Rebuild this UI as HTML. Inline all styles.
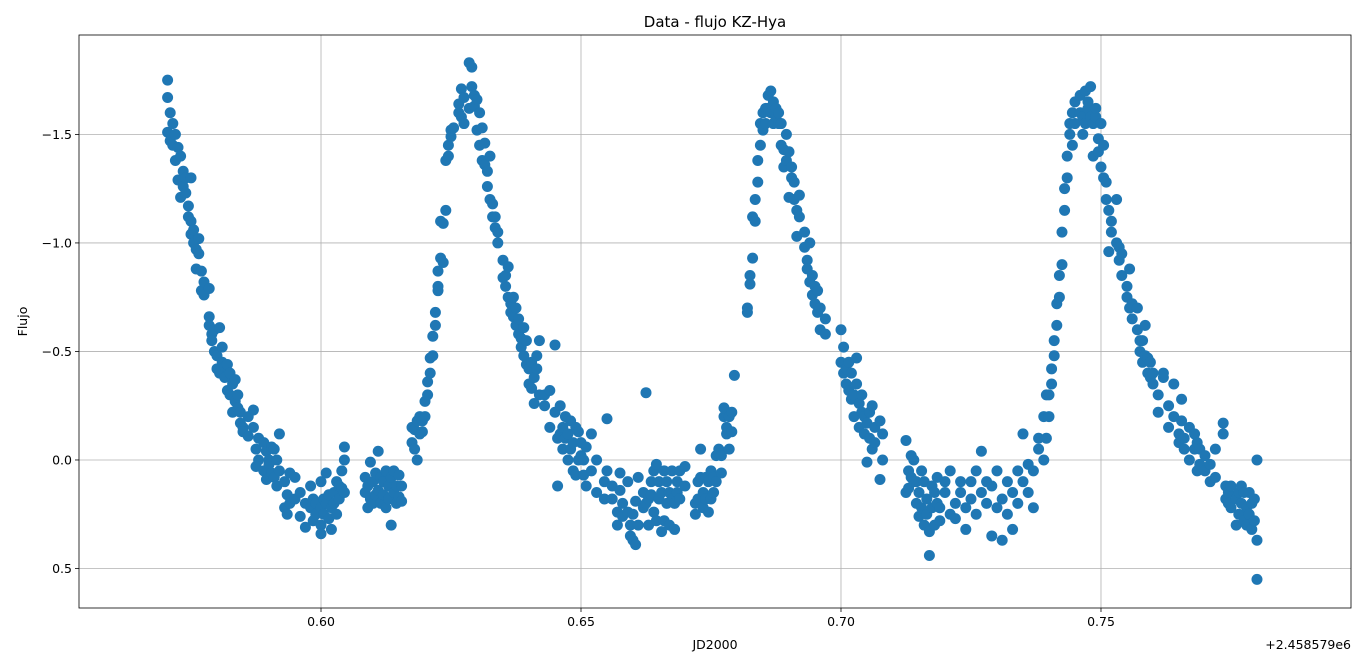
<!DOCTYPE html>
<html><head><meta charset="utf-8"><style>
body{margin:0;background:#fff;font-family:"Liberation Sans","DejaVu Sans",sans-serif}
svg text{font-family:"DejaVu Sans","Liberation Sans",sans-serif}
</style></head><body>
<svg id="c" width="1366" height="667"></svg>
<script>
const xTicks=[0.60,0.65,0.70,0.75];
const xTickLabels=["0.60","0.65","0.70","0.75"];
const yTicks=[-1.5,-1.0,-0.5,0.0,0.5];
const yTickLabels=["−1.5","−1.0","−0.5","0.0","0.5"];
const samples=[
[0.5705,-1.67,-1.51,-1.75],[0.5710,-1.60,-1.47],[0.5715,-1.55,-1.45],[0.5720,-1.50,-1.38],[0.5725,-1.44,-1.29],[0.5730,-1.40,-1.21],[0.5735,-1.33,-1.26],[0.5740,-1.30,-1.23],[0.5745,-1.17,-1.12],[0.5750,-1.10,-1.30,-1.04],[0.5755,-1.06,-1.00],[0.5760,-0.97,-0.88],[0.5765,-0.95,-1.02],[0.5770,-0.87,-0.78],[0.5775,-0.76,-0.82],[0.5785,-0.79,-0.66,-0.62],[0.5790,-0.58,-0.55],[0.5795,-0.50,-0.60],[0.5800,-0.42,-0.48],[0.5805,-0.40,-0.61],[0.5810,-0.45,-0.52],[0.5815,-0.38,-0.43],[0.5820,-0.32,-0.44],[0.5825,-0.40,-0.30],[0.5830,-0.35,-0.22],[0.5835,-0.27,-0.37],[0.5840,-0.24,-0.30],[0.5845,-0.17,-0.22],[0.5850,-0.15,-0.13],[0.5860,-0.11,-0.20],[0.5870,-0.23,-0.15],[0.5875,-0.05,0.03],[0.5880,0.00,-0.10],[0.5890,0.05,-0.08],[0.5895,-0.04,0.09],[0.5900,0.00,0.02],[0.5905,-0.06,0.06],[0.5910,0.08,-0.05],[0.5915,0.00,0.12],[0.5920,-0.12,0.05],[0.5930,0.10,0.22],[0.5935,0.16,0.25],[0.5940,0.20,0.06],[0.5950,0.08,0.18],[0.5960,0.26,0.15],[0.5970,0.20,0.31],[0.5980,0.22,0.12],[0.5985,0.28,0.18],[0.5990,0.25,0.20],[0.6000,0.30,0.22,0.34,0.10],[0.6005,0.25,0.18],[0.6010,0.06,0.20],[0.6015,0.27,0.16],[0.6020,0.32,0.22],[0.6025,0.15,0.20],[0.6030,0.10,0.25],[0.6035,0.18,0.12],[0.6040,0.05,0.13],[0.6045,0.00,-0.06,0.15],
[0.6085,0.08,0.15],[0.6090,0.12,0.22],[0.6095,0.01,0.18],[0.6100,0.10,0.20],[0.6105,0.06,0.16],[0.6110,-0.04,0.14],[0.6115,0.08,0.20],[0.6120,0.16,0.10],[0.6125,0.22,0.05],[0.6130,0.12,0.18],[0.6135,0.30,0.08],[0.6140,0.15,0.05],[0.6145,0.12,0.20],[0.6150,0.07,0.17],[0.6155,0.12,0.19],[0.6175,-0.08,-0.15],[0.6180,-0.05,-0.14],[0.6185,-0.18,0.00],[0.6190,-0.12,-0.20],[0.6195,-0.13,-0.18],[0.6200,-0.20,-0.27],[0.6205,-0.30,-0.36],[0.6210,-0.40,-0.47],[0.6215,-0.48,-0.57],[0.6220,-0.68,-0.62],[0.6225,-0.80,-0.78,-0.87],[0.6230,-0.93,-1.10],[0.6235,-1.09,-0.91],[0.6240,-1.15,-1.38],[0.6245,-1.40,-1.45],[0.6250,-1.49,-1.52],[0.6255,-1.53],[0.6265,-1.60,-1.64],[0.6270,-1.71,-1.58],[0.6275,-1.67,-1.55],[0.6285,-1.83,-1.62],[0.6290,-1.81,-1.72],[0.6295,-1.68,-1.63],[0.6300,-1.66,-1.52],[0.6305,-1.60,-1.45],[0.6310,-1.38,-1.53],[0.6315,-1.36,-1.46],[0.6320,-1.33,-1.26],[0.6325,-1.20,-1.40],[0.6330,-1.18,-1.12],[0.6335,-1.07,-1.12],[0.6340,-1.00,-1.05],[0.6350,-0.92,-0.84],[0.6355,-0.85,-0.80],[0.6360,-0.75,-0.89],[0.6365,-0.72,-0.68],[0.6370,-0.75,-0.66],[0.6375,-0.62,-0.70],[0.6380,-0.58,-0.65],[0.6385,-0.52,-0.56],[0.6390,-0.61,-0.48],[0.6395,-0.44,-0.55],[0.6400,-0.42,-0.35],[0.6405,-0.45,-0.33],[0.6410,-0.26,-0.38],[0.6415,-0.48,-0.42],[0.6420,-0.55,-0.30],[0.6430,-0.30,-0.25],[0.6440,-0.15,-0.32],[0.6450,-0.22,-0.53],[0.6455,-0.10,0.12],[0.6460,-0.12,-0.25],[0.6465,-0.15,-0.05],[0.6470,-0.10,-0.20],[0.6475,0.00,-0.12],[0.6480,-0.18,-0.05],[0.6485,0.05,-0.08],[0.6490,-0.15,0.07],[0.6495,0.00,-0.13],[0.6500,-0.08,-0.02],[0.6505,0.00,0.07],[0.6510,-0.06,0.12],[0.6520,-0.12,0.05],[0.6530,0.00,0.15],[0.6545,0.10,0.18],[0.6550,0.05,-0.19],[0.6560,0.12,0.18],[0.6570,0.24,0.30],[0.6575,0.14,0.06],[0.6580,0.20,0.26],[0.6590,0.10,0.24],[0.6595,0.30,0.35],[0.6600,0.25,0.37],[0.6605,0.39,0.19],[0.6610,0.30,0.08],[0.6620,0.22,0.15],[0.6625,-0.31,0.20],[0.6630,0.30,0.18],[0.6635,0.16,0.10],[0.6640,0.05,0.24],[0.6645,0.02,0.28],[0.6650,0.18,0.10],[0.6655,0.33,0.15],[0.6660,0.28,0.05],[0.6665,0.20,0.10],[0.6670,0.30,0.15],[0.6675,0.05,0.18],[0.6680,0.32,0.20],[0.6685,0.10,0.15],[0.6690,0.05,0.18],[0.6700,0.03,0.12],[0.6720,0.25,0.20],[0.6725,0.10,0.18],[0.6730,-0.05,0.08],[0.6735,0.15,0.22],[0.6740,0.08,0.18],[0.6745,0.24,0.10],[0.6750,0.18,0.05],[0.6755,0.08,0.15],[0.6760,-0.02,0.10],[0.6765,-0.05,-0.03],[0.6770,-0.02,0.06],[0.6775,-0.20,-0.24],[0.6780,-0.15,-0.12],[0.6785,-0.20,-0.05],[0.6790,-0.22,-0.13],[0.6795,-0.39],
[0.6820,-0.68,-0.70],[0.6825,-0.81,-0.85],[0.6830,-0.93,-1.12],[0.6835,-1.20,-1.10],[0.6840,-1.28,-1.38],[0.6845,-1.45,-1.55],[0.6850,-1.60,-1.52],[0.6855,-1.62,-1.55],[0.6860,-1.62,-1.68],[0.6865,-1.70,-1.60],[0.6870,-1.65,-1.55],[0.6875,-1.62,-1.58],[0.6880,-1.60,-1.55],[0.6885,-1.45,-1.55],[0.6890,-1.43,-1.35],[0.6895,-1.50,-1.38],[0.6900,-1.42,-1.21],[0.6905,-1.35,-1.30],[0.6910,-1.28,-1.20],[0.6915,-1.15,-1.03],[0.6920,-1.12,-1.22],[0.6930,-0.98,-1.05],[0.6935,-0.92,-0.88],[0.6940,-1.00,-0.82],[0.6945,-0.85,-0.76],[0.6950,-0.72,-0.80],[0.6955,-0.68,-0.78],[0.6960,-0.60,-0.70],[0.6970,-0.58,-0.65],[0.7000,-0.45,-0.60],[0.7005,-0.52,-0.40],[0.7010,-0.42,-0.35],[0.7015,-0.32,-0.45],[0.7020,-0.40,-0.28],[0.7025,-0.20,-0.30],[0.7030,-0.35,-0.47],[0.7035,-0.26,-0.15],[0.7040,-0.22,-0.30],[0.7045,-0.12,-0.20],[0.7050,0.01,-0.17],[0.7055,-0.22,-0.10],[0.7060,-0.05,-0.25],[0.7065,-0.15,-0.08],[0.7075,-0.18,0.09],[0.7080,0.00,-0.12],[0.7125,-0.09,0.15],[0.7130,0.05,0.13],[0.7135,0.08,-0.02],[0.7140,0.00,0.10],[0.7145,0.20,0.10],[0.7150,0.15,0.26],[0.7155,0.22,0.05],[0.7160,0.10,0.30],[0.7165,0.18,0.25],[0.7170,0.33,0.44],[0.7175,0.22,0.12],[0.7180,0.30,0.15],[0.7185,0.08,0.20],[0.7190,0.22,0.28],[0.7200,0.15,0.10],[0.7210,0.25,0.05],[0.7220,0.20,0.27],[0.7230,0.10,0.15],[0.7240,0.22,0.32],[0.7250,0.10,0.18],[0.7260,0.25,0.05],[0.7270,0.15,-0.04],[0.7280,0.20,0.10],[0.7290,0.35,0.12],[0.7300,0.22,0.05],[0.7310,0.37,0.18],[0.7320,0.10,0.25],[0.7330,0.32,0.15],[0.7340,0.05,0.20],[0.7350,0.10,-0.12],[0.7360,0.15,0.02],[0.7370,0.22,0.05],[0.7380,-0.05,-0.10],[0.7390,0.00,-0.20],[0.7395,-0.10,-0.30],[0.7400,-0.30,-0.20],[0.7405,-0.35,-0.42],[0.7410,-0.48,-0.55],[0.7415,-0.62,-0.72],[0.7420,-0.75,-0.85],[0.7425,-0.90,-1.05],[0.7430,-1.15,-1.25],[0.7435,-1.30,-1.40],[0.7440,-1.50,-1.55],[0.7445,-1.60,-1.45],[0.7450,-1.65,-1.55],[0.7460,-1.60,-1.68],[0.7465,-1.58,-1.50],[0.7470,-1.70,-1.55],[0.7475,-1.62,-1.65],[0.7480,-1.72,-1.58],[0.7485,-1.55,-1.40],[0.7490,-1.58,-1.62],[0.7495,-1.48,-1.42],[0.7500,-1.55,-1.35],[0.7505,-1.30,-1.45],[0.7510,-1.20,-1.28],[0.7515,-0.96,-1.15],[0.7520,-1.10,-1.05],[0.7530,-1.20,-1.00],[0.7535,-0.98,-0.92],[0.7540,-0.85,-0.95],[0.7550,-0.80,-0.75],[0.7555,-0.88,-0.70],[0.7560,-0.65,-0.72],[0.7570,-0.60,-0.70],[0.7575,-0.55,-0.50],[0.7580,-0.45,-0.55],[0.7585,-0.62,-0.48],[0.7590,-0.40,-0.47],[0.7595,-0.45,-0.38],[0.7600,-0.35,-0.40],[0.7610,-0.30,-0.22],[0.7620,-0.38,-0.40],[0.7630,-0.25,-0.15],[0.7640,-0.20,-0.35],[0.7650,-0.12,-0.08],[0.7655,-0.28,-0.18],[0.7660,-0.10,-0.05],[0.7670,-0.15,0.00],[0.7680,-0.05,-0.12],[0.7685,0.05,-0.08],[0.7690,0.02,-0.05],[0.7700,-0.02,0.05],[0.7710,0.10,0.02],[0.7720,-0.05,0.08],[0.7735,-0.17,-0.12],[0.7740,0.12,0.18],[0.7745,0.15,0.20],[0.7750,0.22,0.12],[0.7760,0.30,0.18],[0.7765,0.15,0.25],[0.7770,0.20,0.12],[0.7775,0.28,0.15],[0.7780,0.22,0.30],[0.7785,0.15,0.25],[0.7790,0.32,0.20],[0.7795,0.18,0.28],[0.7800,0.37,0.55,0.00]
];
const L=79,R=1351,T=35,B=608;
const xMin=0.55346,xMax=0.79808,yMin=-1.958,yMax=0.682;
const xs=v=>L+(v-xMin)/(xMax-xMin)*(R-L);
const ys=v=>T+(v-yMin)/(yMax-yMin)*(B-T);
const NS="http://www.w3.org/2000/svg";
const svg=document.getElementById('c');
function mk(tag,attrs,parent){const e=document.createElementNS(NS,tag);for(const k in attrs)e.setAttribute(k,attrs[k]);(parent||svg).appendChild(e);return e;}
const grid=mk('g',{});


xTicks.forEach((t,i)=>{
 const x=xs(t);
 mk('line',{x1:x,x2:x,y1:T,y2:B,stroke:'#b0b0b0','stroke-width':0.8},grid);
 mk('line',{x1:x,x2:x,y1:B,y2:B+4,stroke:'#000','stroke-width':0.8});
 const tx=mk('text',{x:x,y:B+18,'text-anchor':'middle','font-size':12.5,fill:'#000'});
 
 
 tx.textContent=xTickLabels[i];
});
yTicks.forEach((t,i)=>{
 const y=ys(t);
 mk('line',{x1:L,x2:R,y1:y,y2:y,stroke:'#b0b0b0','stroke-width':0.8},grid);
 mk('line',{x1:L-4,x2:L,y1:y,y2:y,stroke:'#000','stroke-width':0.8});
 const tx=mk('text',{x:L-7,y:y+4.5,'text-anchor':'end','font-size':12.5,fill:'#000'});
 
 
 tx.textContent=yTickLabels[i];
});
const pts=mk('g',{fill:'#1f77b4'});


samples.forEach(s=>{
 for(let k=1;k<s.length;k++){
  const c=mk('circle',{cx:xs(s[0]),cy:ys(s[k]),r:5.5},pts);
  
  
 }
});
const fr=mk('rect',{x:L,y:T,width:R-L,height:B-T,fill:'none',stroke:'#000','stroke-width':0.8});


const ti=mk('text',{x:(L+R)/2,y:27,'text-anchor':'middle','font-size':15,fill:'#000'});


ti.textContent='Data - flujo KZ-Hya';
const xl=mk('text',{x:(L+R)/2,y:649,'text-anchor':'middle','font-size':12.5,fill:'#000'});


xl.textContent='JD2000';
const off=mk('text',{x:R,y:649,'text-anchor':'end','font-size':12.5,fill:'#000'});


off.textContent='+2.458579e6';
const yl=mk('text',{x:27,y:(T+B)/2,'text-anchor':'middle','font-size':12.5,fill:'#000',transform:'rotate(-90 27 '+((T+B)/2)+')'});


yl.textContent='Flujo';
</script>
</body></html>
